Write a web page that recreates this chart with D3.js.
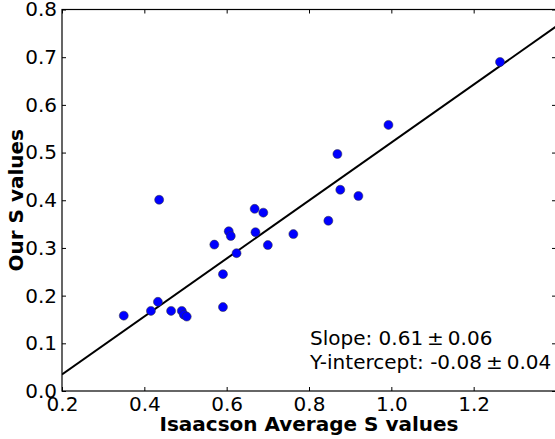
<!DOCTYPE html>
<html>
<head>
<meta charset="utf-8">
<script src="https://cdn.jsdelivr.net/npm/d3@7"></script>
<style>
  body { margin: 0; background: #fff; }
  text { font-family: "DejaVu Sans", sans-serif; fill: #000; }
</style>
</head>
<body>
<div id="chart"></div>
<script>
// Data
const isaacsonS = [0.35, 0.416, 0.433, 0.436, 0.465, 0.491, 0.496, 0.503, 0.570, 0.591, 0.591,
  0.605, 0.610, 0.624, 0.668, 0.670, 0.689, 0.700, 0.762, 0.847, 0.869, 0.876, 0.920, 0.993, 1.264];
const ourS = [0.158, 0.168, 0.187, 0.401, 0.168, 0.168, 0.160, 0.156, 0.307, 0.176, 0.245,
  0.335, 0.325, 0.289, 0.382, 0.333, 0.374, 0.306, 0.329, 0.357, 0.497, 0.422, 0.409, 0.558, 0.690];
const fitSlope = 0.608;
const fitIntercept = -0.087;
const annotations = ["Slope: 0.61\u2009\u00b1\u20090.06", "Y-intercept: -0.08\u2009\u00b1\u20090.04"];
const xTicks = [0.2, 0.4, 0.6, 0.8, 1.0, 1.2];
const yTicks = [0.0, 0.1, 0.2, 0.3, 0.4, 0.5, 0.6, 0.7, 0.8];

const W = 555, H = 439;
const plot = { left: 62, right: 556, top: 9.5, bottom: 391 };
const fontSize = "20px";

const svg = d3.select("#chart").append("svg")
  .attr("width", W)
  .attr("height", H);

const x = d3.scaleLinear().domain([0.2, 1.4]).range([plot.left, plot.right]);
const y = d3.scaleLinear().domain([0, 0.8]).range([plot.bottom, plot.top]);

svg.append("clipPath").attr("id", "clip")
  .append("rect")
  .attr("x", plot.left).attr("y", plot.top)
  .attr("width", plot.right - plot.left).attr("height", plot.bottom - plot.top);

// Fit line
const lineX = [0.2, 1.4];
svg.append("path")
  .attr("clip-path", "url(#clip)")
  .attr("d", d3.line().x(d => x(d)).y(d => y(fitSlope * d + fitIntercept))(lineX))
  .attr("fill", "none")
  .attr("stroke", "#000")
  .attr("stroke-width", 2);

// Points
const pts = isaacsonS.map((v, i) => ({ x: v, y: ourS[i] }));
svg.append("g").selectAll("circle")
  .data(pts)
  .enter()
  .append("circle")
  .attr("cx", d => x(d.x))
  .attr("cy", d => y(d.y))
  .attr("r", 4.5)
  .attr("fill", "#0000ff")
  .attr("stroke", "#333")
  .attr("stroke-width", 0.5);

// Axes (matplotlib style: ticks inside, on all four sides)
const tickLen = 4;
const xAxis = svg.append("g")
  .attr("transform", `translate(0,${plot.bottom})`)
  .call(d3.axisBottom(x).tickValues(xTicks).tickSize(-tickLen).tickPadding(6).tickFormat(d3.format(".1f")));
const yAxis = svg.append("g")
  .attr("transform", `translate(${plot.left},0)`)
  .call(d3.axisLeft(y).tickValues(yTicks).tickSize(-tickLen).tickPadding(5).tickFormat(d3.format(".1f")));
const xTop = svg.append("g")
  .attr("transform", `translate(0,${plot.top})`)
  .call(d3.axisTop(x).tickValues(xTicks).tickSize(-tickLen).tickFormat(""));
const yRight = svg.append("g")
  .attr("transform", `translate(${plot.right},0)`)
  .call(d3.axisRight(y).tickValues(yTicks).tickSize(-tickLen).tickFormat(""));

[xAxis, yAxis, xTop, yRight].forEach(g => {
  g.select(".domain").remove();
  g.selectAll(".tick line").attr("stroke", "#000").attr("stroke-width", 1);
  g.selectAll(".tick text")
    .style("font-family", "'DejaVu Sans', sans-serif")
    .style("font-size", fontSize)
    .attr("fill", "#000");
});

// Frame
svg.append("rect")
  .attr("x", plot.left).attr("y", plot.top)
  .attr("width", plot.right - plot.left).attr("height", plot.bottom - plot.top)
  .attr("fill", "none")
  .attr("stroke", "#000")
  .attr("stroke-width", 1.2);

// Axis labels
svg.append("text")
  .attr("x", 309)
  .attr("y", 431)
  .attr("text-anchor", "middle")
  .style("font-size", fontSize)
  .style("font-weight", "bold")
  .text("Isaacson Average S values");

svg.append("text")
  .attr("transform", "rotate(-90)")
  .attr("x", -(plot.top + plot.bottom) / 2)
  .attr("y", 23)
  .attr("text-anchor", "middle")
  .style("font-size", fontSize)
  .style("font-weight", "bold")
  .text("Our S values");

// Fit annotation
svg.append("g").selectAll("text")
  .data(annotations)
  .enter()
  .append("text")
  .attr("x", 310)
  .attr("y", (d, i) => 345 + i * 23.5)
  .style("font-size", fontSize)
  .text(d => d);
</script>
</body>
</html>
